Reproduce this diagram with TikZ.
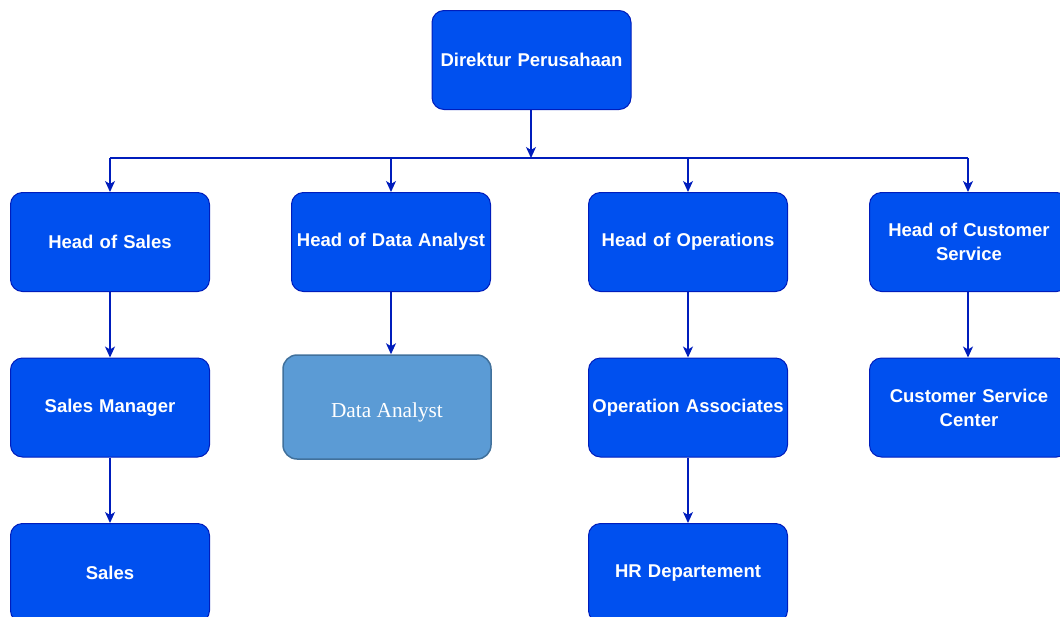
\documentclass[tikz,border=0pt]{standalone}
\usepackage{fontspec}
\setmainfont{Liberation Sans}
\newfontfamily\serifface{Liberation Serif}
\usetikzlibrary{arrows.meta}
\definecolor{boxfill}{HTML}{0050EF}
\definecolor{boxline}{HTML}{001DBC}
\definecolor{dafill}{HTML}{5B9BD5}
\definecolor{daline}{HTML}{41719C}
\tikzset{
  orgbox/.style={draw=boxline, fill=boxfill, line width=1pt, rounded corners=12pt,
    minimum width=199pt, minimum height=99pt, inner sep=2pt, text=white,
    font=\fontsize{18.5}{24}\selectfont\bfseries, align=center, text width=195pt},
  dabox/.style={draw=daline, fill=dafill, line width=1.5pt, rounded corners=14pt,
    minimum width=208pt, minimum height=104pt, inner sep=2pt, text=white,
    font=\serifface\fontsize{21.3}{24}\selectfont, text height=21pt, text depth=0pt},
  link/.style={draw=boxline, line width=1.3pt, -{Stealth[length=11pt,width=10pt,inset=3pt]}},
  bar/.style={draw=boxline, line width=1.3pt}
}
\begin{document}
\begin{tikzpicture}[x=1pt,y=-1pt]
\useasboundingbox (0,0) rectangle (1060,616);
\begin{scope}
\clip (0,0) rectangle (1060,616);
\node[orgbox] (dir) at (531.5,60) {Direktur Perusahaan};
\node[orgbox] (hs) at (110,242) {Head of Sales};
\node[orgbox] (hda) at (391,242) {Head of Data Analyst};
\node[orgbox] (hop) at (688,242) {Head of Operations};
\node[orgbox] (hcs) at (969,242) {Head of Customer\\Service};
\node[orgbox] (sm) at (110,407.5) {Sales Manager};
\node[dabox] (da) at (387,407) {Data Analyst};
\node[orgbox] (oa) at (688,407.5) {Operation Associates};
\node[orgbox] (csc) at (969,407.5) {Customer Service\\Center};
\node[orgbox] (sales) at (110,573) {Sales};
\node[orgbox] (hr) at (688,573) {HR Departement};
\coordinate (bus) at (531,158);
\coordinate (busl) at (110,158);
\coordinate (busr) at (968,158);
\draw[bar] (busl) -- (busr);
\draw[link] (dir.south -| bus) -- (bus);
\draw[link] (busl) -- (hs.north);
\draw[link] (hda.north |- bus) -- (hda.north);
\draw[link] (hop.north |- bus) -- (hop.north);
\draw[link] (busr) -- (busr |- hcs.north);
\draw[link] (hs) -- (sm);
\draw[link] (hda.south) -- (hda.south |- da.north);
\draw[link] (hop) -- (oa);
\draw[link] (hcs.south -| busr) -- (busr |- csc.north);
\draw[link] (sm) -- (sales);
\draw[link] (oa) -- (hr);
\end{scope}
\end{tikzpicture}
\end{document}
